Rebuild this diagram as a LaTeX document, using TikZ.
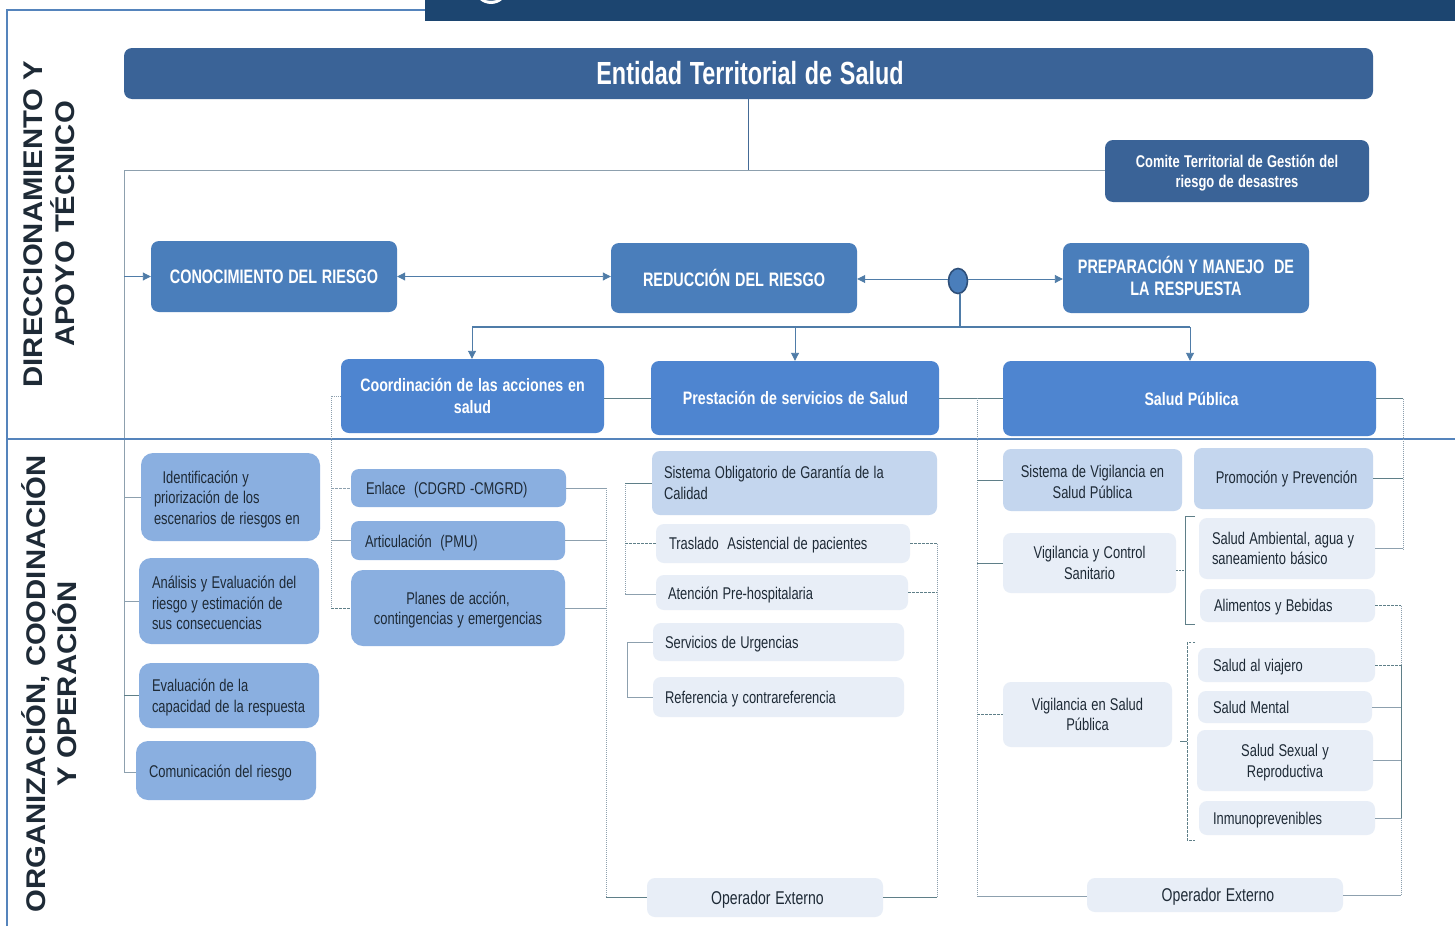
\documentclass[tikz,border=0pt]{standalone}
\usepackage{fontspec}
\usepackage{graphicx}
\usetikzlibrary{arrows.meta,shapes.geometric}
\setmainfont{Liberation Sans}
\definecolor{frameblue}{HTML}{5584BC}
\definecolor{bandblue}{HTML}{1C4570}
\definecolor{deepblue}{HTML}{3A6397}
\definecolor{midblue}{HTML}{4A7EBB}
\definecolor{brightblue}{HTML}{4E85D0}
\definecolor{softblue}{HTML}{8AAFE0}
\definecolor{paleblue}{HTML}{C4D6EE}
\definecolor{mistblue}{HTML}{E8EEF7}
\definecolor{inkdark}{HTML}{1E2A36}
\definecolor{wire}{HTML}{8DA0AE}
\definecolor{wiredark}{HTML}{5F7F88}
\definecolor{arrowblue}{HTML}{4F7CA8}
\newcommand\nbox[7][10]{%
  \pgfmathsetmacro\bw{#5-#3}\pgfmathsetmacro\bh{#6-#4}%
  \pgfmathsetmacro\cx{(#3+#5)/2}\pgfmathsetmacro\cy{(#4+#6)/2}%
  \pgfmathsetmacro\tw{\bw-2*#1}%
  \node[boxbase,inner xsep=#1pt,inner ysep=0pt,text width=\tw pt,minimum width=\bw pt,minimum height=\bh pt,#7] (#2) at (\cx,\cy) }
\newcommand\sqf{1}
\newcommand\sq[1]{\scalebox{\sqf}[1]{#1}}
\newcommand\dn[1]{\raisebox{-2pt}[\height][\depth]{\sq{#1}}}
\newcommand\upl[1]{\raisebox{2pt}[\height][\depth]{\sq{#1}}}
\tikzset{
  boxbase/.style={rectangle,rounded corners=8pt,draw=none,align=center},
  lefttext/.style={align=left},
  topbox/.style={fill=deepblue,text=white,font=\bfseries\fontsize{17}{20.5}\selectfont\renewcommand\sqf{0.76}},
  riskbox/.style={fill=midblue,text=white,font=\bfseries\fontsize{19.5}{22}\selectfont\renewcommand\sqf{0.74}},
  linebox/.style={fill=brightblue,text=white,font=\bfseries\fontsize{18}{22}\selectfont\renewcommand\sqf{0.79}},
  softbox/.style={fill=softblue,text=inkdark,font=\fontsize{17}{20.5}\selectfont\renewcommand\sqf{0.76}},
  palebox/.style={fill=paleblue,text=inkdark,font=\fontsize{17}{20.5}\selectfont\renewcommand\sqf{0.76}},
  mistbox/.style={fill=mistblue,text=inkdark,font=\fontsize{17}{20.5}\selectfont\renewcommand\sqf{0.76}},
  opbox/.style={fill=mistblue,text=inkdark,font=\fontsize{18.5}{22}\selectfont\renewcommand\sqf{0.76}},
  entbox/.style={fill=deepblue,text=white,font=\bfseries\fontsize{32}{36}\selectfont\renewcommand\sqf{0.73}},
  frameline/.style={draw=frameblue,line width=2.8pt},
  wireline/.style={draw=wire,line width=0.9pt},
  darkwire/.style={draw=wiredark,line width=1pt},
  dashwire/.style={draw=wiredark,line width=0.8pt,dash pattern=on 2.5pt off 1.5pt},
  dotwire/.style={draw=wire,line width=0.9pt,dash pattern=on 1pt off 1pt},
  arrowline/.style={draw=arrowblue,line width=0.9pt,-{Triangle[length=8pt,width=8pt]}},
  twoarrow/.style={draw=arrowblue,line width=0.9pt,{Triangle[length=8pt,width=8pt]}-{Triangle[length=8pt,width=8pt]}},
  sidelabel/.style={rotate=90,align=center,text=inkdark,font=\bfseries\fontsize{27}{31.5}\selectfont\renewcommand\sqf{1.085}}
}
\begin{document}
\begin{tikzpicture}[x=1pt,y=-1pt]
\useasboundingbox (0,0) rectangle (1455,926);
% frame and top band
\fill[white] (0,0) rectangle (1455,926);
\coordinate (fa) at (7,926); \coordinate (fb) at (7,10); \coordinate (fc) at (425,10);
\coordinate (fd) at (7,439); \coordinate (fe) at (1455,439);
\draw[frameline] (fa) -- (fb) -- (fc);
\fill[bandblue] (425,0) rectangle (1455,21);
\fill[white] (491,-13) circle (17);
\fill[bandblue!70!white] (491,-13) circle (14);
% side labels
\node[sidelabel] (sideone) at (49,224) {\sq{DIRECCIONAMIENTO Y}\\\sq{APOYO TÉCNICO}};
\node[sidelabel] (sidetwo) at (49,684) {\sq{ORGANIZACIÓN, COODINACIÓN}\\\sq{Y OPERACIÓN}};
% buses
\coordinate (busL) at (124,170);
\coordinate (busLend) at (124,772);
\coordinate (busC) at (331,397);
\coordinate (busCend) at (331,610);
\coordinate (busR) at (977,398);
\coordinate (busRend) at (977,896);
\coordinate (busP) at (606,488);
\coordinate (busPend) at (606,897);
\coordinate (busQ) at (625,483);
\coordinate (busQend) at (625,594);
\coordinate (busS) at (627,642);
\coordinate (busSend) at (627,697);
\coordinate (busT) at (937,543);
\coordinate (busTend) at (937,897);
\coordinate (busU) at (1403,398);
\coordinate (busUend) at (1403,550);
\coordinate (busV) at (1401,605);
\coordinate (busVend) at (1401,895);
\coordinate (tee) at (960,327);
\coordinate (teeL) at (472,327);
\coordinate (teeM) at (795,327);
\coordinate (teeR) at (1190,327);
\coordinate (entdrop) at (748,99);
\coordinate (entjoin) at (748,170);
% boxes
\nbox[8]{ent}{124}{48}{1373}{99}{entbox}{\hspace*{3pt}\sq{Entidad Territorial de Salud}};
\nbox[8]{comite}{1105}{140}{1369}{202}{topbox}{\dn{Comite Territorial de Gestión del}\\\dn{riesgo de desastres}};
\nbox[6]{cono}{151}{241}{397}{312}{riskbox}{\sq{CONOCIMIENTO DEL RIESGO}};
\nbox[6]{redu}{611}{243}{857}{313}{riskbox}{\sq{REDUCCIÓN DEL RIESGO}};
\nbox[6]{prep}{1063}{243}{1309}{313}{riskbox}{\upl{PREPARACIÓN Y MANEJO\ \ DE}\\\upl{LA RESPUESTA}};
\nbox[6]{coord}{341}{359}{604}{433}{linebox}{\sq{Coordinación de las acciones en}\\\sq{salud}};
\nbox[6]{prest}{651}{361}{939}{435}{linebox}{\hspace*{1pt}\sq{Prestación de servicios de Salud}};
\nbox[6]{salud}{1003}{361}{1376}{436}{linebox}{\hspace*{4pt}\sq{Salud Pública}};
% left column
\nbox[13]{iden}{141}{453}{320}{541}{softbox,lefttext,rounded corners=12pt}{\dn{\ \ Identificación y}\\\dn{priorización de los}\\\dn{escenarios de riesgos en}};
\nbox[13]{anal}{139}{558}{319}{644}{softbox,lefttext,rounded corners=12pt}{\dn{Análisis y Evaluación del}\\\dn{riesgo y estimación de}\\\dn{sus consecuencias}};
\nbox[13]{eval}{139}{663}{319}{728}{softbox,lefttext,rounded corners=12pt}{\dn{Evaluación de la}\\\dn{capacidad de la respuesta}};
\nbox[13]{comu}{136}{741}{316}{800}{softbox,lefttext,rounded corners=12pt}{\dn{Comunicación del riesgo}};
% coordination column
\nbox[15]{enla}{351}{469}{566}{507}{softbox,lefttext}{\dn{Enlace\ \ (CDGRD -CMGRD)}};
\nbox[14]{arti}{351}{521}{565}{560}{softbox,lefttext}{\dn{Articulación\ \ (PMU)}};
\nbox[6]{plan}{351}{570}{565}{646}{softbox,rounded corners=12pt}{\dn{Planes de acción,}\\\dn{contingencias y emergencias}};
% services column
\nbox[12]{sist}{652}{451}{937}{515}{palebox,lefttext}{\sq{Sistema Obligatorio de Garantía de la}\\\sq{Calidad}};
\nbox[13]{tras}{656}{524}{910}{563}{mistbox,lefttext}{\dn{Traslado\ \ Asistencial de pacientes}};
\nbox[12]{aten}{656}{575}{908}{610}{mistbox,lefttext}{\dn{Atención Pre-hospitalaria}};
\nbox[12]{serv}{653}{623}{904}{661}{mistbox,lefttext}{\dn{Servicios de Urgencias}};
\nbox[12]{refe}{653}{677}{904}{717}{mistbox,lefttext}{\dn{Referencia y contrareferencia}};
\nbox[6]{opone}{647}{878}{883}{917}{opbox}{\hspace*{5pt}\dn{Operador Externo}};
% public health column
\nbox[6]{svig}{1003}{449}{1182}{511}{palebox}{\dn{Sistema de Vigilancia en}\\\dn{Salud Pública}};
\nbox[6]{prom}{1194}{448}{1373}{509}{palebox}{\hspace*{6pt}\sq{Promoción y Prevención}};
\nbox[6]{vctl}{1003}{533}{1176}{593}{mistbox}{\sq{Vigilancia y Control}\\\sq{Sanitario}};
\nbox[13]{samb}{1199}{518}{1375}{579}{mistbox,lefttext}{\sq{Salud Ambiental, agua y}\\\sq{saneamiento básico}};
\nbox[14]{alim}{1200}{589}{1375}{622}{mistbox,lefttext}{\dn{Alimentos y Bebidas}};
\nbox[15]{viaj}{1198}{648}{1375}{682}{mistbox,lefttext}{\dn{Salud al viajero}};
\nbox[15]{ment}{1198}{691}{1372}{723}{mistbox,lefttext}{\sq{Salud Mental}};
\nbox[6]{sexu}{1197}{730}{1373}{791}{mistbox}{\dn{Salud Sexual y}\\\dn{Reproductiva}};
\nbox[14]{inmu}{1199}{801}{1375}{835}{mistbox,lefttext}{\dn{Inmunoprevenibles}};
\nbox[6]{vsp}{1003}{682}{1172}{747}{mistbox}{\sq{Vigilancia en Salud}\\\sq{Pública}};
\nbox[6]{optwo}{1087}{878}{1343}{912}{opbox}{\hspace*{6pt}\dn{Operador Externo}};
% junction dot
\node[ellipse,fill=midblue,draw=deepblue!80!black,line width=1.6pt,inner sep=0pt,minimum width=19pt,minimum height=25pt] (dot) at (958,281) {};
\coordinate (dotw) at ([yshift=2pt]dot.west);
\coordinate (dote) at ([yshift=2pt]dot.east);
% top connectors
\draw[wireline] (comite.west |- busL) -- (busL) -- (busLend) -- (busLend -| comu.west);
\draw[draw=frameblue!80!black,line width=1pt] (entdrop) -- (entjoin);
\draw[arrowline] (cono.west -| busL) -- (cono.west);
\draw[twoarrow] (cono.east) -- (redu.west |- cono.east);
\draw[arrowline] (dotw) -- (redu.east |- dotw);
\draw[arrowline] (dote) -- (prep.west |- dote);
\draw[draw=arrowblue,line width=1.1pt] (tee |- dot.south) -- (tee);
\draw[draw=arrowblue,line width=1.1pt] (teeL) -- (teeR);
\draw[arrowline] (teeL) -- (teeL |- coord.north);
\draw[arrowline] (teeM) -- (teeM |- prest.north);
\draw[arrowline] (teeR) -- (teeR |- salud.north);
\draw[darkwire] (coord.east |- prest.west) -- (prest.west);
\draw[darkwire] (prest.east) -- (salud.west |- prest.east);
% frame divider
\draw[frameline] (fd) -- (fe);
% left bus branches
\draw[wireline] (busL |- iden.west) -- (iden.west);
\draw[wireline] (busL |- anal.west) -- (anal.west);
\draw[darkwire] (busL |- eval.west) -- (eval.west);
% coordination bus
\draw[dotwire] (coord.west) -- (coord.west -| busC) -- (busCend);
\draw[dashwire,draw=wire] (busC |- enla.west) -- (enla.west);
\draw[wireline] (busC |- arti.west) -- (arti.west);
\draw[dashwire] (busC |- plan.west) -- (plan.west);
% coordination to operator
\draw[wireline] (enla.east) -- (enla.east -| busP);
\draw[dotwire] (enla.east -| busP) -- (busPend);
\draw[wireline] (arti.east) -- (arti.east -| busP);
\draw[wireline] (plan.east) -- (plan.east -| busP);
\draw[darkwire] (busPend) -- (busPend -| opone.west);
% services buses
\draw[dotwire] (busQ) -- (busQend);
\draw[darkwire] (busQ) -- (sist.west |- busQ);
\draw[dashwire] (busQ |- tras.west) -- (tras.west);
\draw[wireline] (busQend) -- (aten.west |- busQend);
\draw[wireline] (serv.west) -- (serv.west -| busS) -- (refe.west -| busS) -- (refe.west);
\draw[dotwire] (tras.east -| busT) -- (busTend);
\draw[dashwire] (tras.east) -- (tras.east -| busT);
\draw[dashwire] (aten.east) -- (aten.east -| busT);
\draw[darkwire] (busTend -| opone.east) -- (busTend);
% public-health left bus
\draw[darkwire] (salud.west) -- (salud.west -| busR);
\draw[dotwire] (busR) -- (busRend);
\draw[wireline] (busRend) -- (busRend -| optwo.west);
\draw[darkwire] (busR |- svig.west) -- (svig.west);
\draw[darkwire] (busR |- vctl.west) -- (vctl.west);
\draw[dashwire] (busR |- vsp.west) -- (vsp.west);
% public-health right bus
\draw[darkwire] (salud.east) -- (salud.east -| busU);
\draw[dotwire] (salud.east -| busU) -- (busUend);
\draw[darkwire] (prom.east) -- (prom.east -| busU);
\draw[wireline] (samb.east) -- (samb.east -| busU);
% second right bus
\draw[dashwire] (alim.east) -- (alim.east -| busV);
\draw[dotwire] (alim.east -| busV) -- (busVend);
\draw[wireline] (busVend -| optwo.east) -- (busVend);
\draw[dashwire] (viaj.east) -- (viaj.east -| busV);
\draw[wireline] (ment.east) -- (ment.east -| busV);
\draw[wireline] (sexu.east) -- (sexu.east -| busV);
\draw[wireline] (inmu.east) -- (inmu.east -| busV);
\draw[darkwire] (viaj.east -| busV) -- (inmu.east -| busV);
% brackets
\coordinate (brA) at (1185,570);
\coordinate (brB) at (1187,741);
\coordinate (brAt) at (1195,516);
\coordinate (brAb) at (1195,624);
\coordinate (brBt) at (1195,642);
\coordinate (brBb) at (1195,840);
\draw[darkwire,dash pattern=on 2pt off 1pt] (vctl.east |- brA) -- (brA);
\draw[wireline,draw=wiredark] (brAt) -- (brAt -| brA) -- (brAb -| brA) -- (brAb);
\draw[darkwire] (1180,741) -- (brB);
\draw[dashwire] (brBt) -- (brBt -| brB) -- (brBb -| brB) -- (brBb);
\end{tikzpicture}
\end{document}
